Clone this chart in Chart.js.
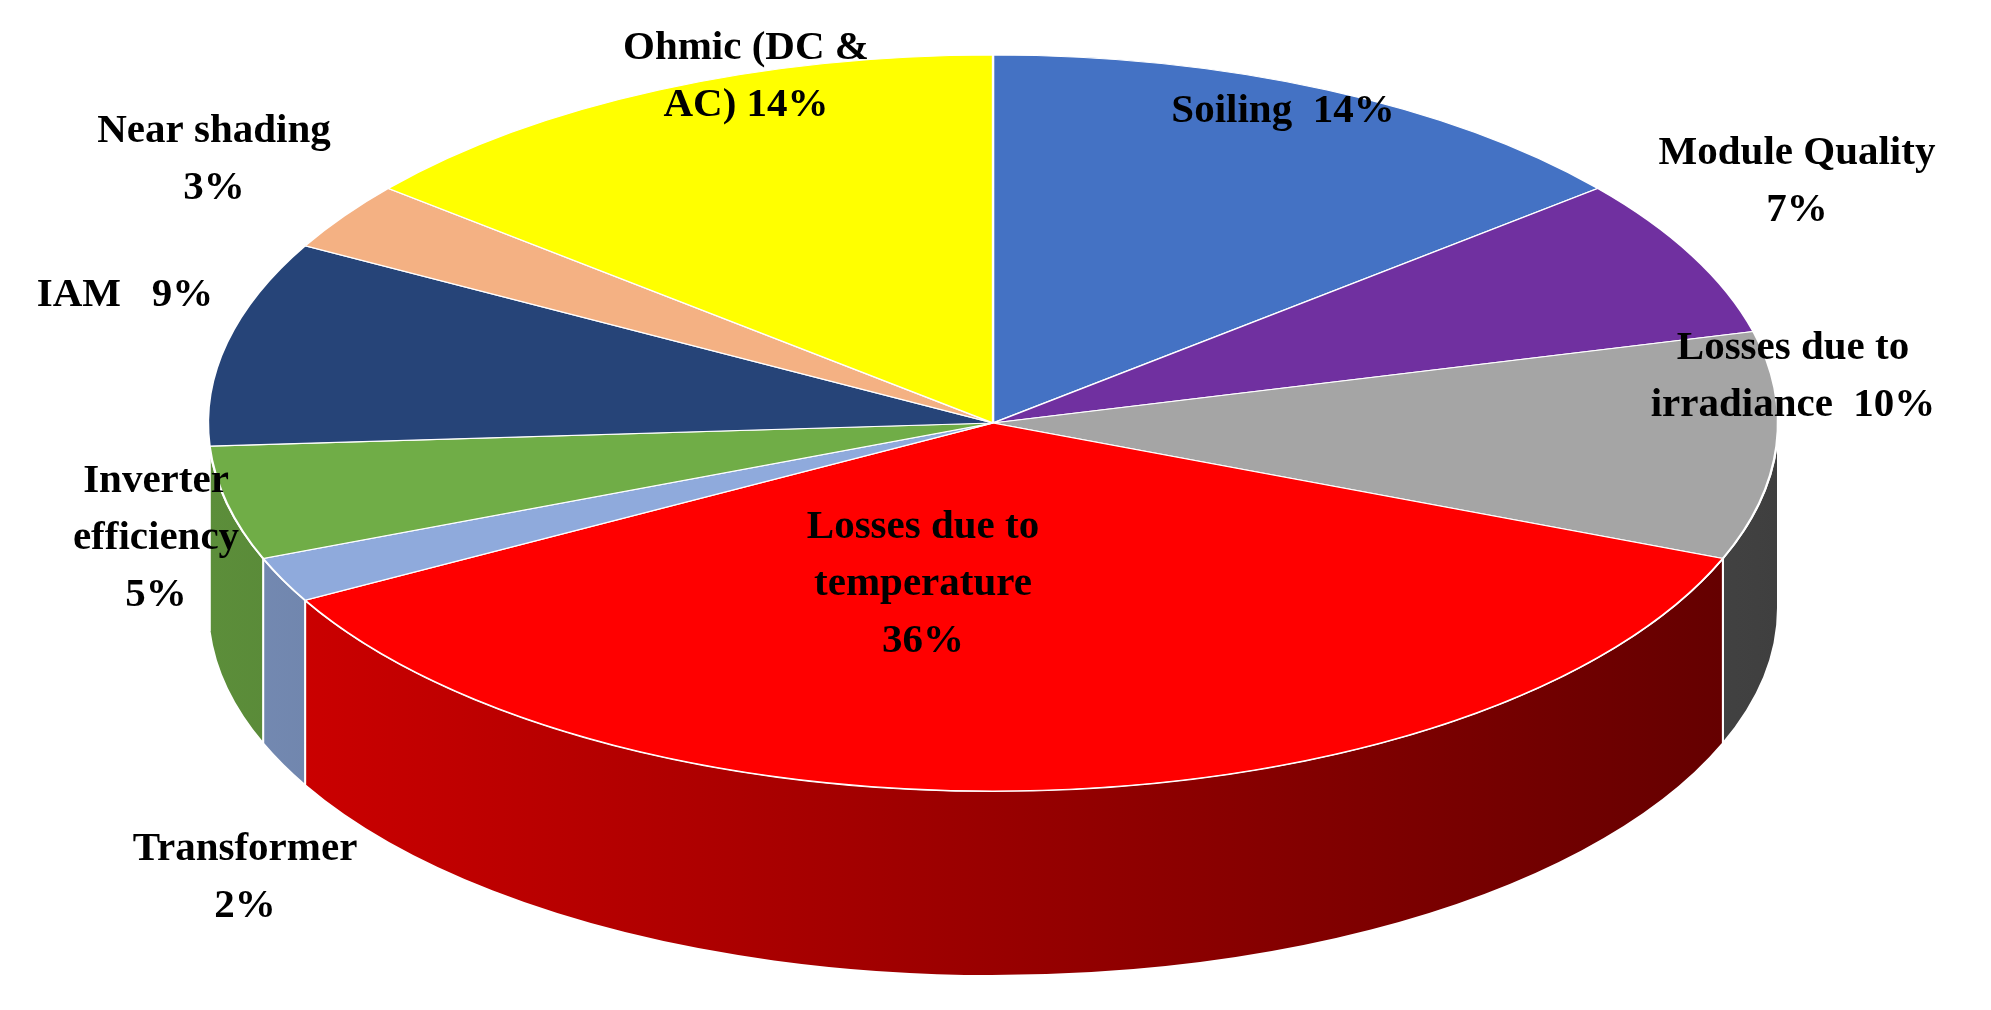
<!DOCTYPE html>
<html>
<head>
<meta charset="utf-8">
<script src="https://cdn.jsdelivr.net/npm/chart.js@4"></script>
<style>
  html, body { margin: 0; padding: 0; background: #fff; }
  #wrap { width: 1991px; height: 1010px; }
</style>
</head>
<body>
<div id="wrap"><canvas id="lossChart" width="1991" height="1010"></canvas></div>
<script>
// Loss breakdown, clockwise from 12 o'clock
const categories = ['Soiling', 'Module Quality', 'Losses due to\nirradiance', 'Losses due to\ntemperature',
    'Transformer', 'Inverter\nefficiency', 'IAM', 'Near shading', 'Ohmic (DC &\nAC)'];
const lossValues = [14, 7, 10, 36, 2, 5, 9, 3, 14];
const separators = ['  ', '\n', '  ', '\n', '\n', '\n', '   ', '\n', ' '];
const sliceColors = ['#4472C4', '#7030A0', '#A5A5A5', '#FF0000', '#8FAADC', '#70AD47', '#264478', '#F4B183', '#FFFF00'];

// label anchor points (layout only)
const labelPos = [[1283, 111], [1797, 153], [1793, 348], [923, 527], [245, 849],
    [156, 481], [125, 295], [214, 131], [746, 48]];

// ellipse geometry of the tilted pie
const CX = 993, CY = 423, RX = 785, RY = 368, DEPTH = 185;

function shade(hex, f) {
    const n = parseInt(hex.slice(1), 16);
    const r = Math.round(((n >> 16) & 255) * f), g = Math.round(((n >> 8) & 255) * f), b = Math.round((n & 255) * f);
    return `rgb(${r},${g},${b})`;
}

const tiltPlugin = {
    id: 'tilt',
    beforeDatasetsDraw(chart) {
        const ctx = chart.ctx;
        const arcs = chart.getDatasetMeta(0).data;
        // side walls for the front half
        arcs.forEach((arc, i) => {
            const s = Math.max(arc.startAngle, 0), e = Math.min(arc.endAngle, Math.PI);
            if (e <= s) return;
            const grad = ctx.createLinearGradient(CX - RX, 0, CX + RX, 0);
            grad.addColorStop(0, shade(sliceColors[i], 0.82));
            grad.addColorStop(1, shade(sliceColors[i], 0.38));
            ctx.save();
            ctx.beginPath();
            ctx.ellipse(CX, CY, RX, RY, 0, s, e, false);
            ctx.ellipse(CX, CY + DEPTH, RX, RY, 0, e, s, true);
            ctx.closePath();
            ctx.fillStyle = grad;
            ctx.fill();
            ctx.strokeStyle = '#fff';
            ctx.lineWidth = 2;
            ctx.stroke();
            ctx.restore();
        });
        const a = arcs[0];
        ctx.save();
        ctx.translate(CX, CY);
        ctx.scale(RX / a.outerRadius, RY / a.outerRadius);
        ctx.translate(-a.x, -a.y);
    },
    afterDatasetsDraw(chart) {
        chart.ctx.restore();
    },
    afterDraw(chart) {
        const ctx = chart.ctx;
        ctx.save();
        ctx.font = 'bold 41px "Liberation Serif", "Times New Roman", serif';
        ctx.fillStyle = '#000';
        ctx.textAlign = 'center';
        ctx.textBaseline = 'middle';
        categories.forEach((name, i) => {
            const lines = (name + separators[i] + lossValues[i] + '%').split('\n');
            lines.forEach((ln, k) => ctx.fillText(ln, labelPos[i][0], labelPos[i][1] + k * 57));
        });
        ctx.restore();
    }
};

new Chart(document.getElementById('lossChart'), {
    type: 'pie',
    data: {
        labels: categories,
        datasets: [{
            data: lossValues,
            backgroundColor: sliceColors,
            borderColor: '#ffffff',
            borderWidth: 1.5
        }]
    },
    options: {
        responsive: false,
        animation: false,
        rotation: 0,
        plugins: { legend: { display: false }, tooltip: { enabled: false } }
    },
    plugins: [tiltPlugin]
});
</script>
</body>
</html>
